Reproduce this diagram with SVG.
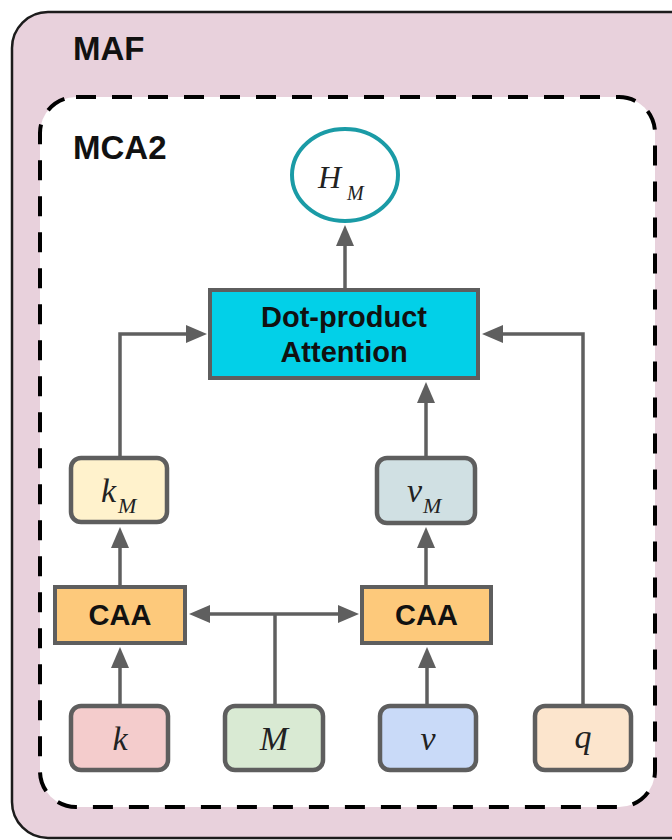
<svg xmlns="http://www.w3.org/2000/svg" width="672" height="840" viewBox="0 0 672 840">
  <defs>
    <marker id="arrow" markerUnits="userSpaceOnUse" markerWidth="22" markerHeight="18" refX="0" refY="9" orient="auto">
      <path d="M0,0 L21,9 L0,18 z" fill="#5f5f5f"/>
    </marker>
    <style>
      .title { font-family: "Liberation Sans", Arial, sans-serif; font-weight: bold; font-size: 33px; fill: #111; }
      .label { font-family: "Liberation Sans", Arial, sans-serif; font-weight: bold; font-size: 29px; fill: #111; text-anchor: middle; }
      .math { font-family: "Liberation Serif", "Times New Roman", serif; font-style: italic; fill: #222; }
      .var { stroke: #5e5e5e; stroke-width: 4.5; }
      .block { stroke: #5e5e5e; stroke-width: 4; }
      .conn { fill: none; stroke: #5f5f5f; stroke-width: 3.5; marker-end: url(#arrow); }
      .plain { fill: none; stroke: #5f5f5f; stroke-width: 3.5; }
    </style>
  </defs>

  <rect width="672" height="840" fill="#ffffff"/>

  <!-- MAF container -->
  <g id="maf">
    <rect x="12" y="12" width="760" height="826" rx="36" fill="#e8d1dc" stroke="#1c1c1c" stroke-width="2.5"/>
    <text class="title" x="73" y="60">MAF</text>
  </g>

  <!-- MCA2 module -->
  <g id="mca2">
    <rect x="40" y="97" width="615" height="710" rx="36" fill="#ffffff" stroke="#000" stroke-width="4" stroke-dasharray="20 16"/>
    <text class="title" x="73" y="159">MCA2</text>
  </g>

  <!-- connectors -->
  <g id="connectors">
    <path class="conn" d="M120,456 V334 H186"/>
    <path class="conn" d="M583,704 V334 H503"/>
    <path class="conn" d="M426,456 V403"/>
    <path class="conn" d="M345,288 V246"/>
    <path class="conn" d="M120,585 V548"/>
    <path class="conn" d="M426,585 V548"/>
    <path class="conn" d="M120,704 V668"/>
    <path class="conn" d="M427,704 V668"/>
    <path class="plain" d="M275,704 V614"/>
    <path class="conn" d="M275,614 H210"/>
    <path class="conn" d="M275,614 H338"/>
  </g>

  <g id="h_m">
    <ellipse cx="345" cy="175" rx="53" ry="46" fill="#ffffff" stroke="#1a9ba6" stroke-width="4"/>
    <text class="math" x="318" y="188" font-size="32">H</text>
    <text class="math" x="347" y="200" font-size="20">M</text>
  </g>

  <g id="attention">
    <rect class="block" x="210" y="290" width="268" height="88" fill="#02d0e8"/>
    <text class="label" x="344" y="327">Dot-product</text>
    <text class="label" x="344" y="362">Attention</text>
  </g>

  <g id="k_m">
    <rect class="var" x="71" y="458" width="96" height="64" rx="10" fill="#fff2cc"/>
    <text class="math" x="101" y="502" font-size="34">k</text>
    <text class="math" x="118" y="513" font-size="22">M</text>
  </g>

  <g id="v_m">
    <rect class="var" x="377" y="458" width="98" height="65" rx="10" fill="#d0e0e3"/>
    <text class="math" x="407" y="502" font-size="34">v</text>
    <text class="math" x="423" y="513" font-size="22">M</text>
  </g>

  <g id="caa_k">
    <rect class="block" x="55" y="587" width="130" height="56" fill="#fdc97b"/>
    <text class="label" x="120" y="625">CAA</text>
  </g>

  <g id="caa_v">
    <rect class="block" x="362" y="587" width="129" height="56" fill="#fdc97b"/>
    <text class="label" x="426.5" y="625">CAA</text>
  </g>

  <g id="k">
    <rect class="var" x="71" y="706" width="97" height="64" rx="10" fill="#f4cccc"/>
    <text class="math" x="120" y="750" font-size="34" text-anchor="middle">k</text>
  </g>

  <g id="m">
    <rect class="var" x="225" y="706" width="98" height="64" rx="10" fill="#d9ead3"/>
    <text class="math" x="274" y="750" font-size="34" text-anchor="middle">M</text>
  </g>

  <g id="v">
    <rect class="var" x="380" y="706" width="96" height="64" rx="10" fill="#c9daf8"/>
    <text class="math" x="428" y="750" font-size="34" text-anchor="middle">v</text>
  </g>

  <g id="q">
    <rect class="var" x="535" y="706" width="96" height="64" rx="10" fill="#fce5cd"/>
    <text class="math" x="583" y="748" font-size="34" text-anchor="middle">q</text>
  </g>
</svg>
